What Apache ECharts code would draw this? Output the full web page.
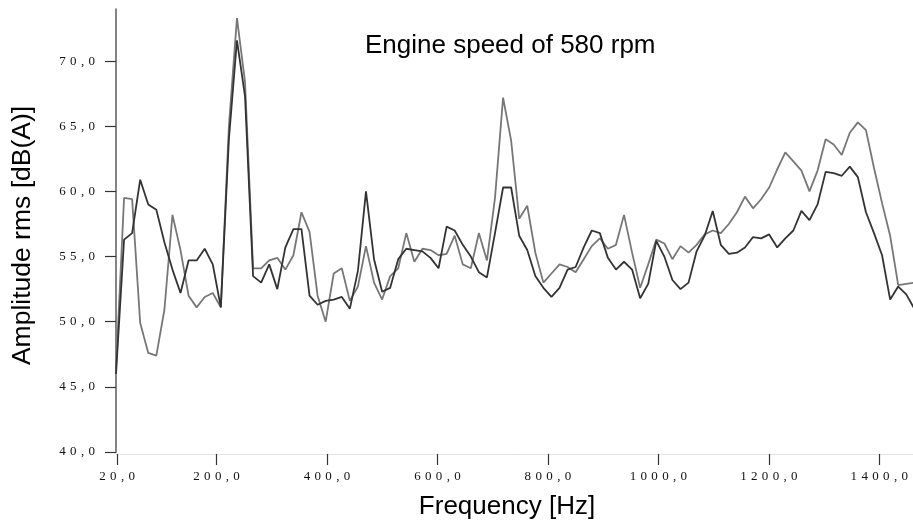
<!DOCTYPE html>
<html>
<head>
	<meta charset="UTF-8">
	<title>Engine speed of 580 rpm</title>
	<script src="https://cdn.jsdelivr.net/npm/echarts@6/dist/echarts.min.js" type="text/javascript"></script>
	<style>
		html, body { margin: 0; padding: 0; background: #fff; }
	</style>
</head>
<body>
	<div id="main" style="width: 913px;height:520px;"></div>
	<script type="text/javascript">
		// frequency of each spectrum line [Hz]
		var freqs = [
			18, 32.6, 47.2, 61.8, 76.4, 91, 105.6, 120.2, 134.8, 149.4,
			164, 178.6, 193.2, 207.8, 222.4, 237, 251.6, 266.2, 280.8, 295.4,
			310, 324.6, 339.2, 353.8, 368.4, 383, 397.6, 412.2, 426.8, 441.4,
			456, 470.6, 485.2, 499.8, 514.4, 529, 543.6, 558.2, 572.8, 587.4,
			602, 616.6, 631.2, 645.8, 660.4, 675, 689.6, 704.2, 718.8, 733.4,
			748, 762.6, 777.2, 791.8, 806.4, 821, 835.6, 850.2, 864.8, 879.4,
			894, 908.6, 923.2, 937.8, 952.4, 967, 981.6, 996.2, 1010.8, 1025.4,
			1040, 1054.6, 1069.2, 1083.8, 1098.4, 1113, 1127.6, 1142.2, 1156.8, 1171.4,
			1186, 1200.6, 1215.2, 1229.8, 1244.4, 1259, 1273.6, 1288.2, 1302.8, 1317.4,
			1332, 1346.6, 1361.2, 1375.8, 1390.4, 1405, 1419.6, 1434.2, 1448.8, 1463.4
		];
		// dark curve [dB(A)]
		var darkLevels = [
			46.0, 56.3, 56.8, 60.9, 59.0, 58.6, 56.1, 54.0, 52.2, 54.7,
			54.7, 55.6, 54.4, 51.1, 64.0, 71.6, 67.3, 53.5, 53.0, 54.4,
			52.5, 55.7, 57.1, 57.1, 52.0, 51.3, 51.6, 51.7, 51.9, 51.0,
			53.9, 60.0, 54.8, 52.3, 52.6, 54.8, 55.6, 55.5, 55.4, 54.9,
			54.1, 57.3, 57.0, 55.9, 55.0, 53.8, 53.4, 56.8, 60.3, 60.3,
			56.6, 55.5, 53.5, 52.6, 51.9, 52.6, 54.0, 54.2, 55.7, 57.0,
			56.8, 54.9, 54.0, 54.6, 54.0, 51.8, 52.9, 56.2, 55.0, 53.2,
			52.5, 53.0, 55.4, 56.6, 58.5, 55.9, 55.2, 55.3, 55.7, 56.5,
			56.4, 56.7, 55.7, 56.4, 57.0, 58.5, 57.8, 59.0, 61.5, 61.4,
			61.2, 61.9, 61.1, 58.4, 56.8, 55.1, 51.7, 52.7, 52.1, 51.0
		];
		// grey curve [dB(A)]
		var greyLevels = [
			46.3, 59.5, 59.4, 49.9, 47.6, 47.4, 50.9, 58.2, 55.5, 52.0,
			51.1, 51.9, 52.2, 51.1, 65.0, 73.3, 68.4, 54.1, 54.1, 54.7,
			54.9, 54.0, 55.1, 58.4, 56.9, 52.0, 50.0, 53.7, 54.1, 51.6,
			52.7, 55.8, 53.0, 51.7, 53.5, 54.1, 56.8, 54.6, 55.6, 55.5,
			55.1, 55.2, 56.6, 54.4, 54.1, 56.8, 54.7, 59.5, 67.2, 63.9,
			57.9, 58.9, 55.3, 53.0, 53.7, 54.4, 54.2, 53.8, 54.8, 55.8,
			56.4, 55.6, 55.9, 58.2, 55.3, 52.6, 54.4, 56.3, 56.0, 54.8,
			55.8, 55.3, 55.9, 56.7, 57.0, 56.8, 57.5, 58.4, 59.6, 58.7,
			59.4, 60.3, 61.7, 63.0, 62.3, 61.6, 60.0, 61.6, 64.0, 63.6,
			62.8, 64.5, 65.3, 64.7, 61.8, 59.1, 56.6, 52.8, 52.9, 53.0
		];
		var xTicks = [20, 200, 400, 600, 800, 1000, 1200, 1400];
		var yTicks = [40, 45, 50, 55, 60, 65, 70];

		// "200,0" -> "2 0 0 , 0"
		function spaced(v) {
			return v.toFixed(1).replace('.', ',').split('').join('\u2004');
		}

		var tickFont = 'Liberation Serif, Times New Roman, serif';
		var titleFont = 'Liberation Sans, Arial, sans-serif';

		var myChart = echarts.init(document.getElementById('main'));
		myChart.setOption({
			backgroundColor: '#fff',
			animation: false,
			title: {
				text: 'Engine speed of 580 rpm',
				left: 360,
				top: 28,
				textStyle: {
					fontFamily: titleFont,
					fontSize: 26,
					fontWeight: 'normal',
					color: '#000'
				}
			},
			grid: {
				left: 116,
				right: 0,
				top: 9,
				bottom: 68,
				outerBoundsMode: 'none'
			},
			xAxis: {
				type: 'value',
				min: 18,
				max: 1461,
				offset: 2,
				name: 'Frequency [Hz]',
				nameLocation: 'middle',
				nameGap: 40,
				nameTextStyle: {
					fontFamily: titleFont,
					fontSize: 26,
					color: '#000',
					padding: [0, 15, 0, 0]
				},
				axisLine: { lineStyle: { color: '#e2e2e2', width: 1 } },
				axisTick: {
					customValues: xTicks,
					length: 11,
					lineStyle: { color: '#333', width: 1.2 }
				},
				axisLabel: {
					customValues: xTicks,
					margin: 16,
					fontFamily: tickFont,
					fontSize: 13,
					color: '#111',
					formatter: spaced
				},
				splitLine: { show: false }
			},
			yAxis: {
				type: 'value',
				min: 40,
				max: 74,
				interval: 5,
				name: 'Amplitude rms [dB(A)]',
				nameLocation: 'middle',
				nameRotate: 90,
				nameGap: 80,
				nameTextStyle: {
					fontFamily: titleFont,
					fontSize: 26.5,
					color: '#000',
					padding: [0, 10, 0, 0]
				},
				axisLine: { show: true, lineStyle: { color: '#666', width: 1.6 } },
				axisTick: {
					show: true,
					customValues: yTicks,
					length: 11,
					lineStyle: { color: '#333', width: 1.2 }
				},
				axisLabel: {
					customValues: yTicks,
					margin: 21,
					fontFamily: tickFont,
					fontSize: 13,
					color: '#111',
					formatter: spaced
				},
				splitLine: { show: false }
			},
			series: [{
				type: 'line',
				data: freqs.map(function(f, i) { return [f, greyLevels[i]]; }),
				showSymbol: false,
				lineStyle: { color: '#777', width: 1.8 }
			}, {
				type: 'line',
				data: freqs.map(function(f, i) { return [f, darkLevels[i]]; }),
				showSymbol: false,
				lineStyle: { color: '#333', width: 1.8 }
			}]
		});
	</script>
</body>
</html>
